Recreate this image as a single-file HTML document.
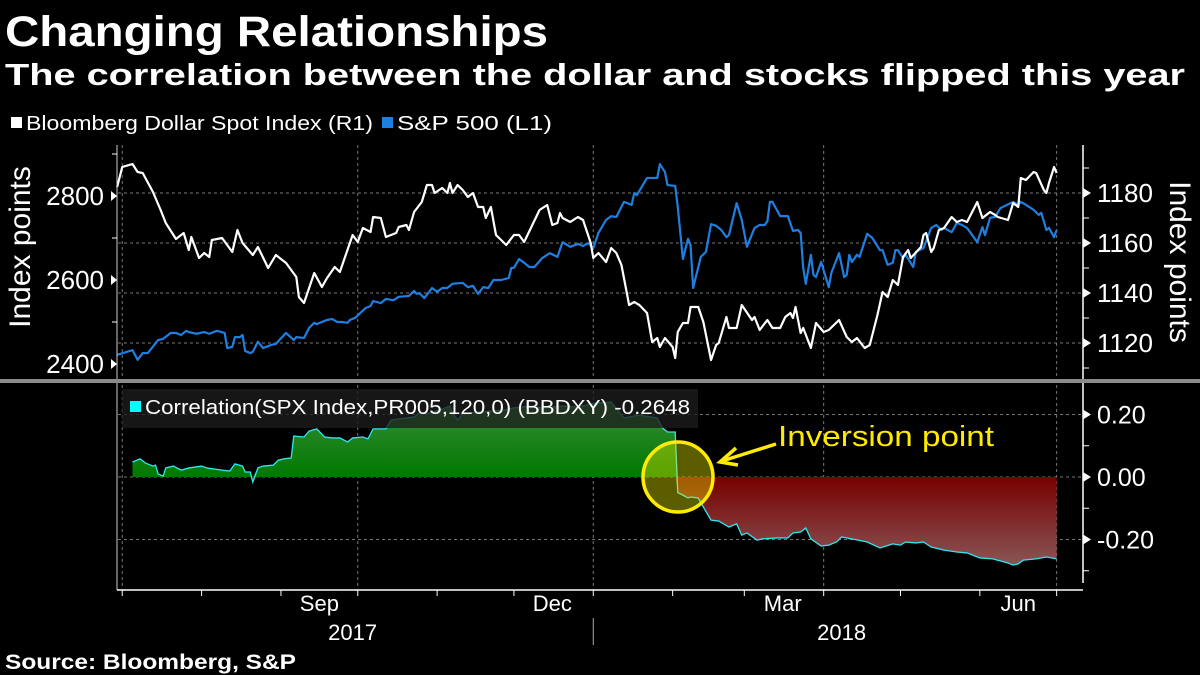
<!DOCTYPE html>
<html><head><meta charset="utf-8"><style>
html,body{margin:0;padding:0;background:#000;}
svg{display:block;font-family:"Liberation Sans",sans-serif;}
</style></head><body>
<svg id="chart" width="1200" height="675" viewBox="0 0 1200 675">
<defs>
<linearGradient id="gpos" gradientUnits="userSpaceOnUse" x1="0" y1="400" x2="0" y2="477"><stop offset="0" stop-color="#3a8e3a"/><stop offset="1" stop-color="#007800"/></linearGradient>
<linearGradient id="gneg" gradientUnits="userSpaceOnUse" x1="0" y1="477" x2="0" y2="570"><stop offset="0" stop-color="#780000"/><stop offset="1" stop-color="#8a5a5a"/></linearGradient>
</defs>
<rect width="1200" height="675" fill="#000"/>
<text x="5" y="46" font-size="43" font-weight="bold" fill="#fff" textLength="543" lengthAdjust="spacingAndGlyphs">Changing Relationships</text>
<text x="5" y="85" font-size="31" font-weight="bold" fill="#fff" textLength="1180" lengthAdjust="spacingAndGlyphs">The correlation between the dollar and stocks flipped this year</text>
<g><rect x="11" y="117" width="11" height="11" fill="#fff"/><text x="26" y="130" font-size="20" fill="#fff" textLength="347" lengthAdjust="spacingAndGlyphs">Bloomberg Dollar Spot Index (R1)</text></g>
<g><rect x="382" y="117" width="11" height="11" fill="#1e7fe0"/><text x="397" y="130" font-size="20" fill="#fff" textLength="155" lengthAdjust="spacingAndGlyphs">S&amp;P 500  (L1)</text></g>
<g id="grid"></g>
<g id="bottom"></g>
<g id="top"></g>
<g id="axes"></g>
<text x="43" y="260" font-size="30" fill="#fff" text-anchor="middle" transform="rotate(-90 30 260)">Index points</text>
<text x="1170" y="262" font-size="30" fill="#fff" text-anchor="middle" transform="rotate(90 1170 262)">Index points</text>
<rect x="0" y="379" width="1200" height="4" fill="#8a8a8a"/>
<g><rect x="122" y="389" width="576" height="39" fill="rgba(28,28,28,0.78)"/><rect x="130" y="401" width="11" height="11" fill="#00ffff"/><text x="145" y="414" font-size="20" fill="#fff" textLength="545" lengthAdjust="spacingAndGlyphs">Correlation(SPX Index,PR005,120,0) (BBDXY) -0.2648</text></g>
<g>
<circle cx="678" cy="477" r="35" fill="rgba(230,230,0,0.4)" stroke="#ffeb00" stroke-width="3.5"/>
<line x1="776" y1="444" x2="722" y2="461" stroke="#ffeb00" stroke-width="3.5"/>
<polyline points="736,448 720,462 738,465" fill="none" stroke="#ffeb00" stroke-width="3.5"/>
<text x="778" y="446" font-size="29" fill="#ffeb00" textLength="216" lengthAdjust="spacingAndGlyphs">Inversion point</text>
</g>
<text x="5" y="669" font-size="21" font-weight="bold" fill="#fff" textLength="291" lengthAdjust="spacingAndGlyphs">Source: Bloomberg, S&amp;P</text>
</svg>
<script>
const dxyDays=[2,4,8,10,12,16,19,21,25,28,30,31,34,36,38,39,43,47,49,51,55,57,61,64,68,72,73,75,77,79,82,84,87,89,94,96,98,101,102,105,107,111,112,115,116,118,121,123,125,126,129,131,132,133,135,137,139,141,143,145,146,148,150,154,157,159,161,167,170,172,174,175,176,179,182,184,187,188,190,193,195,197,199,202,204,206,209,211,213,214,216,219,220,221,223,225,226,229,231,234,236,237,240,241,244,246,250,251,253,256,258,261,263,265,266,267,269,270,273,275,278,280,284,287,289,291,294,296,299,301,303,305,307,309,311,312,316,317,318,320,321,323,325,328,330,332,334,336,338,340,343,345,346,350,352,354,355,357,360,361,364,365,366,368,369];
const dxyValues=[1182.4,1190.4,1191.6,1188.4,1188,1180.4,1173.2,1168,1161.6,1164,1157.2,1162.4,1154,1156,1154.4,1161.2,1162,1156.4,1165.2,1160,1155.2,1158.4,1150,1155.2,1152,1146.4,1138.4,1136,1142,1148,1142.4,1146,1150.4,1148.4,1163.2,1160.4,1166,1164.4,1170.4,1170,1162.4,1164,1166.4,1167.2,1165.2,1172.4,1176.4,1183.2,1183.2,1180,1182,1180,1184,1180,1183.2,1181.2,1178.4,1180,1174.4,1174.4,1170,1174.4,1163.2,1159.2,1163.2,1163.2,1160.4,1173.2,1175.2,1167.2,1168,1172,1170,1168.4,1170.4,1169.2,1160,1154,1156,1152.4,1158,1156,1151.2,1135.2,1136.4,1135.2,1132,1120.4,1122,1118.4,1122,1118.4,1114,1124.4,1128,1128,1134.4,1134.4,1128.4,1113.2,1119.2,1120,1130.4,1126,1126,1135.2,1129.2,1130.4,1125.2,1129.2,1126,1126,1130.4,1132,1130,1134.4,1124,1126,1118,1128,1124.4,1125.2,1129.2,1122.4,1120.4,1122,1118,1119.2,1131.2,1140.4,1138.4,1145.2,1143.2,1154.4,1157.2,1154,1158.4,1163.2,1164,1156.4,1158,1165.2,1166,1170.4,1168.4,1169.2,1168.4,1172.4,1176.4,1170,1172.4,1171.2,1170.4,1169.2,1176,1174.4,1186,1185.2,1188.4,1188,1181.2,1180,1184,1190.4,1188];
const spxDays=[2,8,10,12,14,18,20,23,25,27,29,30,33,36,38,41,44,45,47,48,50,51,52,54,55,57,59,62,64,68,71,72,75,77,79,80,84,86,88,90,92,93,95,99,101,102,105,107,110,112,116,118,119,120,122,125,127,129,131,133,137,139,141,143,145,147,149,152,155,156,157,159,161,163,165,168,171,174,176,179,182,184,186,188,190,193,195,197,200,203,204,205,209,213,214,216,217,220,221,223,225,226,227,230,232,234,236,238,240,241,244,246,248,251,253,255,256,257,258,261,264,266,268,269,270,271,273,274,275,277,280,281,284,286,287,288,289,291,292,295,297,300,301,303,305,306,307,309,310,313,314,317,320,322,324,325,328,330,332,334,338,340,341,343,345,347,352,354,355,357,360,362,363,365,366,368,369];
const spxValues=[2422,2433,2410,2426,2426,2457,2460,2474,2474,2469,2479,2476,2472,2476,2472,2479,2474,2438,2441,2464,2464,2469,2431,2426,2429,2453,2438,2445,2448,2474,2457,2464,2462,2486,2498,2495,2505,2507,2500,2500,2498,2505,2510,2533,2538,2550,2545,2555,2552,2560,2562,2574,2567,2569,2557,2581,2572,2581,2581,2591,2593,2583,2586,2567,2583,2581,2600,2600,2605,2629,2629,2650,2641,2631,2631,2652,2664,2655,2690,2679,2686,2681,2688,2676,2712,2743,2752,2750,2786,2779,2807,2802,2843,2843,2876,2857,2826,2824,2774,2650,2698,2683,2581,2655,2667,2733,2729,2719,2702,2707,2783,2743,2679,2724,2731,2731,2740,2786,2786,2752,2752,2717,2719,2712,2629,2591,2660,2612,2607,2643,2583,2617,2664,2607,2612,2660,2643,2660,2655,2710,2700,2671,2671,2636,2641,2671,2671,2652,2660,2631,2667,2676,2724,2731,2719,2724,2714,2736,2731,2724,2690,2726,2707,2748,2750,2771,2786,2779,2786,2779,2767,2755,2760,2719,2724,2702,2719];
const corrDays=[8,11,13,16,17,18,20,21,24,27,30,35,37,43,46,48,51,52,54,55,57,59,63,65,67,70,71,75,77,80,83,86,89,92,94,98,100,102,105,107,109,112,118,120,123,128,132,133,135,137,143,153,157,163,168,176,182,189,195,200,206,213,215,217,220,221,223,225,226,229,231,234,237,241,244,246,248,252,254,260,264,266,269,271,273,277,280,283,285,289,295,300,305,308,310,314,317,320,325,330,334,339,344,350,352,354,356,361,365,369];
const corrValues=[0.048,0.058,0.045,0.035,0.038,0.01,0.003,0.029,0.035,0.022,0.029,0.035,0.029,0.022,0.019,0.042,0.035,0.016,0.016,-0.016,0.029,0.035,0.038,0.054,0.058,0.061,0.131,0.128,0.147,0.154,0.128,0.125,0.125,0.112,0.125,0.128,0.122,0.154,0.154,0.154,0.182,0.186,0.192,0.205,0.202,0.214,0.227,0.205,0.182,0.202,0.208,0.214,0.221,0.227,0.221,0.227,0.224,0.237,0.24,0.189,0.198,0.189,0.157,0.144,0.144,-0.05,-0.058,-0.067,-0.064,-0.067,-0.096,-0.138,-0.141,-0.16,-0.15,-0.186,-0.179,-0.202,-0.198,-0.195,-0.195,-0.179,-0.176,-0.163,-0.198,-0.221,-0.218,-0.208,-0.192,-0.198,-0.208,-0.227,-0.214,-0.218,-0.208,-0.211,-0.208,-0.224,-0.234,-0.24,-0.243,-0.259,-0.262,-0.275,-0.282,-0.278,-0.266,-0.262,-0.256,-0.262];
const leftTicks=[2400,2600,2800];
const rightTicks=[1120,1140,1160,1180];
const corrTicks=[-0.2,0,0.2];
const monthLabels=['Sep','Dec','Mar','Jun'];
const monthLabelDays=[81,172,262,354];
const quarterDays=[96,188,278,369];
const monthTickDays=[4,35,66,96,127,157,188,219,247,278,308,339,369];
const yearLabels=['2017','2018'];
const yearLabelDays=[94,285];

const NS='http://www.w3.org/2000/svg';
const X=d=>112+d*2.56;
const YL=v=>196+(2800-v)*0.42;
const YR=v=>193+(1180-v)*2.5;
const YC=v=>477-v*312.5;
function mk(tag,attrs,parent){const e=document.createElementNS(NS,tag);for(const k in attrs)e.setAttribute(k,attrs[k]);parent.appendChild(e);return e;}
const grid=document.getElementById('grid'),top_=document.getElementById('top'),bot=document.getElementById('bottom'),axes=document.getElementById('axes');
const dash={stroke:'#777','stroke-width':1,'stroke-dasharray':'3,3'};
rightTicks.forEach(v=>{const l=mk('line',Object.assign({x1:118,x2:1083,y1:YR(v),y2:YR(v)},dash),grid);

});
corrTicks.forEach(v=>{const l=mk('line',Object.assign({x1:118,x2:1083,y1:YC(v),y2:YC(v)},dash),grid);

});
[4].concat(quarterDays).forEach(d=>{const l=mk('line',Object.assign({x1:X(d),x2:X(d),y1:145,y2:590},dash),grid);

});
let pos='M'+X(corrDays[0])+','+YC(0),neg='M'+X(corrDays[0])+','+YC(0),line='';
corrDays.forEach((d,i)=>{const v=corrValues[i];pos+=' L'+X(d)+','+YC(Math.max(v,0));neg+=' L'+X(d)+','+YC(Math.min(v,0));line+=(i?' L':'M')+X(d)+','+YC(v);});
const ld=corrDays[corrDays.length-1];pos+=' L'+X(ld)+','+YC(0)+' Z';neg+=' L'+X(ld)+','+YC(0)+' Z';
const pa=mk('path',{d:pos,fill:'url(#gpos)'},bot);


const na=mk('path',{d:neg,fill:'url(#gneg)'},bot);


const cl=mk('path',{d:line,fill:'none',stroke:'#2fe6f0','stroke-width':1.3},bot);


function pathOf(days,vals,Y){return days.map((d,i)=>(i?'L':'M')+X(d)+','+Y(vals[i])).join(' ');}
const sl=mk('path',{d:pathOf(spxDays,spxValues,YL),fill:'none',stroke:'#1e7fe0','stroke-width':2.2,'stroke-linejoin':'round'},top_);


const dl=mk('path',{d:pathOf(dxyDays,dxyValues,YR),fill:'none',stroke:'#fff','stroke-width':2.2,'stroke-linejoin':'round'},top_);


mk('line',{x1:117,x2:117,y1:145,y2:590,stroke:'#ccc','stroke-width':1},axes);
mk('line',{x1:1083,x2:1083,y1:145,y2:583,stroke:'#fff','stroke-width':1.5},axes);
mk('line',{x1:117,x2:1083,y1:590,y2:590,stroke:'#fff','stroke-width':1.5},axes);
leftTicks.forEach(v=>{const y=YL(v);mk('path',{d:`M111,${y-5} L117,${y} L111,${y+5} Z`,fill:'#fff'},axes);
const t=mk('text',{x:104,y:y+9,'font-size':26,fill:'#fff','text-anchor':'end'},axes);t.textContent=v;

});
[2500,2700,2900].forEach(v=>mk('line',{x1:112,x2:117,y1:YL(v),y2:YL(v),stroke:'#fff'},axes));
rightTicks.forEach(v=>{const y=YR(v);mk('path',{d:`M1083,${y-5} L1091,${y} L1083,${y+5} Z`,fill:'#fff'},axes);
const t=mk('text',{x:1097,y:y+9,'font-size':26,fill:'#fff'},axes);t.textContent=v;

});
[1110,1130,1150,1170,1190].forEach(v=>mk('line',{x1:1083,x2:1089,y1:YR(v),y2:YR(v),stroke:'#fff'},axes));
corrTicks.forEach(v=>{const y=YC(v);mk('path',{d:`M1083,${y-5} L1091,${y} L1083,${y+5} Z`,fill:'#fff'},axes);
const t=mk('text',{x:1097,y:y+9,'font-size':25,fill:'#fff'},axes);t.textContent=(v<0?'-':'')+Math.abs(v).toFixed(2);

});
[-0.1,0.1,-0.3].forEach(v=>mk('line',{x1:1083,x2:1089,y1:YC(v),y2:YC(v),stroke:'#fff'},axes));
monthTickDays.forEach(d=>mk('line',{x1:X(d),x2:X(d),y1:590,y2:596,stroke:'#fff'},axes));
monthLabels.forEach((m,i)=>{const t=mk('text',{x:X(monthLabelDays[i]),y:611,'font-size':22,fill:'#fff','text-anchor':'middle'},axes);t.textContent=m;

});
yearLabels.forEach((m,i)=>{const t=mk('text',{x:X(yearLabelDays[i]),y:640,'font-size':22,fill:'#fff','text-anchor':'middle'},axes);t.textContent=m;

});
mk('line',{x1:X(188),x2:X(188),y1:618,y2:645,stroke:'#aaa'},axes);
</script>
</body></html>
